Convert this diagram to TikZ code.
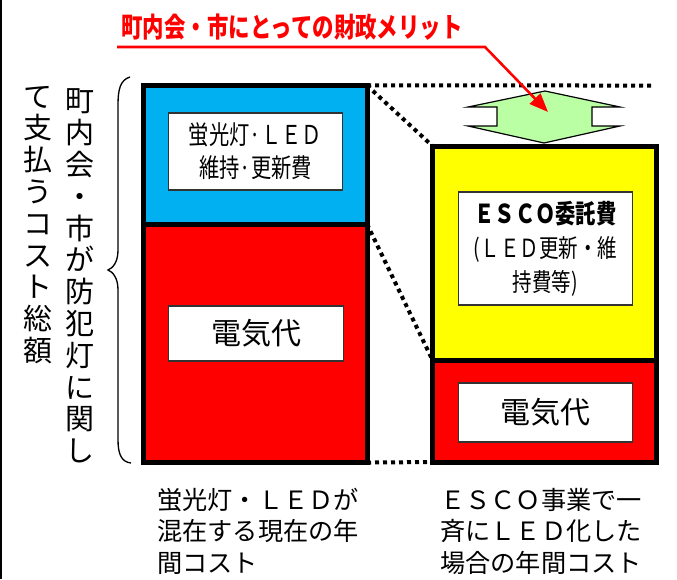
\documentclass[tikz,border=0pt]{standalone}
\usepackage{fontspec}
\setmainfont{Noto Sans CJK JP}
\newfontfamily\narrowjp[FakeStretch=0.78]{Noto Sans CJK JP}
\usetikzlibrary{positioning,arrows.meta,calc}
\definecolor{lampblue}{RGB}{0,176,240}
\definecolor{powerred}{RGB}{255,0,0}
\definecolor{escoyellow}{RGB}{255,255,0}
\definecolor{gaingreen}{RGB}{187,255,165}

\begin{document}
\begin{tikzpicture} [
			x=0.75pt,y=-0.75pt,
			bar/.style={draw=black,line width=3.75pt,inner sep=0pt,outer sep=0pt,minimum width=168pt},
			labelbox/.style={draw=black!80,line width=0.9pt,fill=white,inner sep=0pt,minimum width=131pt,align=center},
			dots/.style={line width=3pt,dash pattern=on 3pt off 3pt},
			vtext/.style={inner sep=0pt,align=center,font=\fontsize{21.75pt}{23.85pt}\selectfont},
			caption/.style={inner sep=0pt,anchor=west,align=left,font=\fontsize{18.9pt}{23.6pt}\selectfont},
%			scale=0.8,
		]
		\useasboundingbox (0,0) rectangle (677,579);
		\draw[line width=1.2pt] (1,0) -- (1,579);
		
		\node[bar,fill=lampblue,minimum height=103.9pt] (lamp) at (255,154.75) {};
		\node[bar,fill=powerred,minimum height=178.9pt] (powerL) [below=0pt of lamp] {};
		\node[bar,fill=escoyellow,minimum height=160.5pt] (esco) at (544.5,253) {};
		\node[bar,fill=powerred,minimum height=76.5pt] (powerR) [below=0pt of esco] {};
		
		\node[labelbox,minimum height=57.75pt,font=\narrowjp\fontsize{19.5pt}{24.75pt}\selectfont] (lampText) at (255.5,151.5) {蛍光灯·ＬＥＤ\\維持·更新費};
		\node[labelbox,minimum height=41.25pt,font=\fontsize{22.5pt}{22.5pt}\selectfont] (powerLText) at (256,333.5) {電気代};
		\node[labelbox,minimum height=84.75pt,font=\narrowjp\fontsize{18.75pt}{25.5pt}\selectfont] (escoText) at (545.5,248.5) {\textbf{\fontsize{19.5pt}{25.5pt}\selectfont ＥＳＣＯ委託費}\\(ＬＥＤ更新・維\\持費等)};
		\node[labelbox,minimum height=44.25pt,font=\fontsize{22.5pt}{22.5pt}\selectfont] (powerRText) at (545.5,412.5) {電気代};
		
		\node[vtext] (payer) at (80,276) {町\\内\\会\\・\\市\\が\\防\\犯\\灯\\に\\関\\し};
		\node[vtext] (payer2) at (38,225) {て\\支\\払\\う\\コ\\ス\\ト\\総\\額};
		\draw[line width=1pt] (130,77) .. controls (120,80) and (118,90) .. (118,105) -- (118,250)
			.. controls (118,262) and (113,268) .. (108,270) .. controls (113,272) and (118,278) .. (118,290)
			-- (118,440) .. controls (118,455) and (122,462) .. (131,463);
		
		\node[caption] (nowcost) at (157,531) {蛍光灯・ＬＥＤが\\混在する現在の年\\間コスト};
		\node[caption] (escocost) at (440,531) {ＥＳＣＯ事業で一\\斉にＬＥＤ化した\\場合の年間コスト};
		
		\node[coordinate] (4) at (652,85.5) {};
		\draw[dots] (lamp.north east) -- (4);
		\draw[dots] (lamp.north east) -- (esco.north west);
		\draw[dots] (lamp.south east) -- (esco.south west);
		\draw[dots] (powerL.south east) -- (powerR.south west);
		
		\draw[fill=gaingreen,line width=0.9pt] (545,91) -- (620,107) -- (592,107) -- (592,126) -- (620,126) -- (544,143)
			-- (468,126) -- (497,126) -- (497,107) -- (468,107) -- cycle;
		
		\node[text=red,font=\narrowjp\bfseries\fontsize{20.6pt}{20.6pt}\selectfont] (merit) at (292,27) {町内会・市にとっての財政メリット};
		\node[coordinate] (1) at (117,47) {};
		\node[coordinate] (2) at (485,47) {};
		\node[coordinate] (3) at (548,112) {};
% 		\fill [blue] (3) circle (2pt);
		\draw[red,line width=1.9pt,-{Triangle[length=14pt,width=11pt]}] (1) -- (2) -- (3);
		
	\end{tikzpicture}
\end{document}
